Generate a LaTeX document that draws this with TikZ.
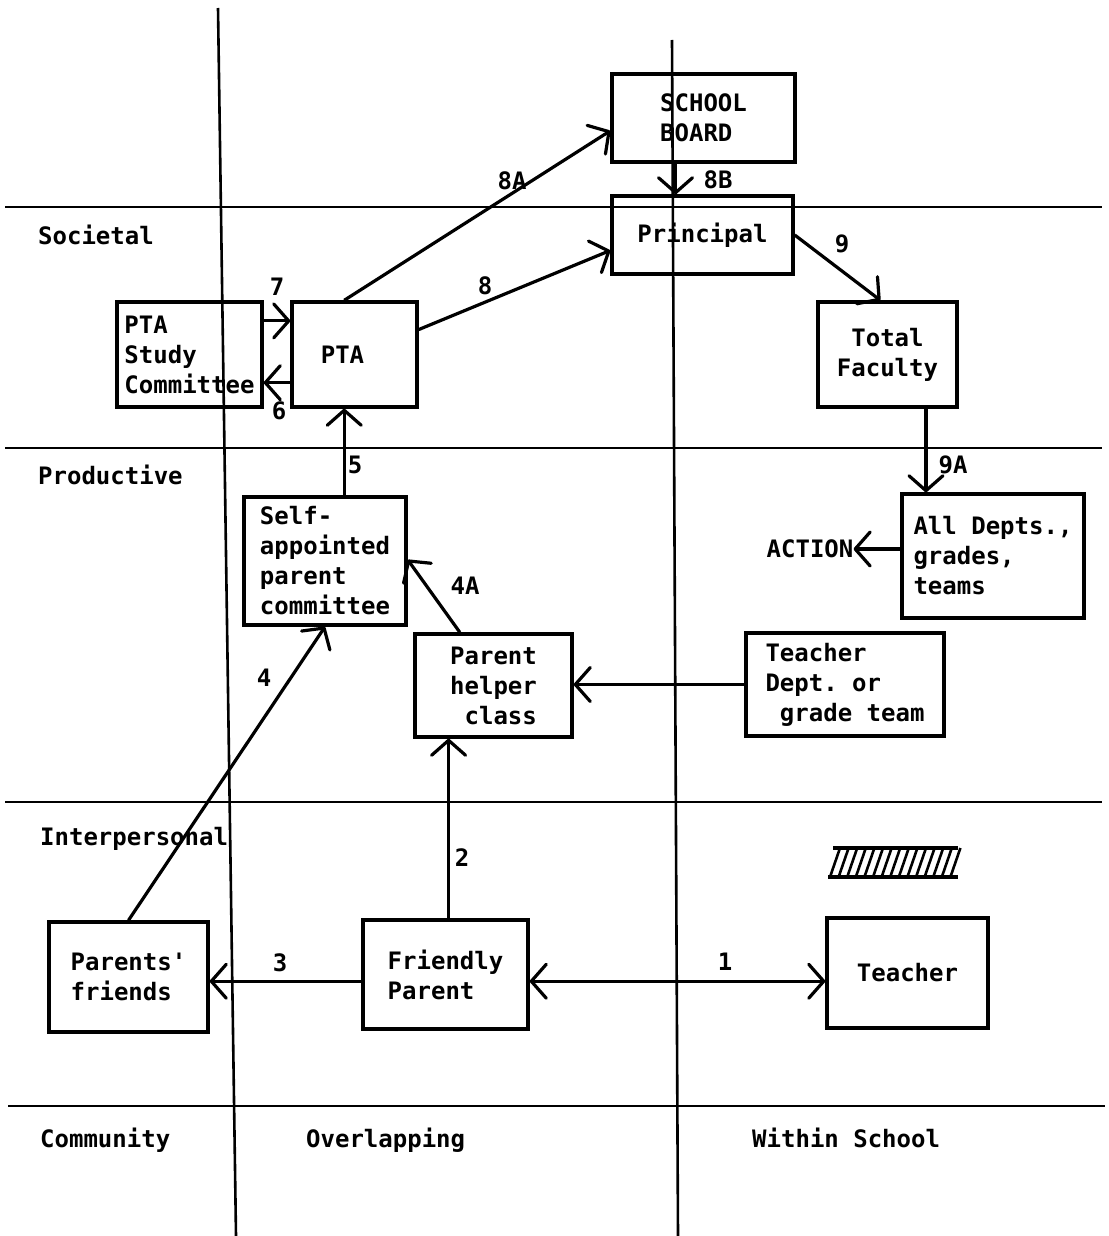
\documentclass[tikz,border=0pt]{standalone}
\usepackage{fontspec}
\setmonofont{DejaVu Sans Mono}
\usetikzlibrary{arrows.meta,calc}
\begin{document}
\begin{tikzpicture}[x=1pt,y=-1pt,
  txt/.style={font=\ttfamily\bfseries\fontsize{24}{30}\selectfont, inner sep=0pt},
  box/.style={txt, draw, line width=3.4pt, align=left},
  divider/.style={line width=2.6pt},
  vtip/.tip={Straight Barb[length=15pt,width=34pt,round]},
  link/.style={line width=3.2pt, -vtip},
  linkboth/.style={line width=3.2pt, vtip-vtip},
  num/.style={txt}
]
\useasboundingbox[fill=white] (0,0) rectangle (1108,1236);

% level and domain dividers
\draw[divider] (5,207) -- (1102,207);
\draw[divider] (5,448) -- (1102,448);
\draw[divider] (5,802) -- (1102,802);
\draw[divider] (8,1106) -- (1105,1106);
\draw[divider] (218,8) -- (236,1236);
\draw[divider] (672,40) -- (678,1236);

% row and column headings
\node[txt, anchor=base west] (hsoc) at (38,244) {Societal};
\node[txt, anchor=base west] (hprod) at (38,484) {Productive};
\node[txt, anchor=base west] (hint) at (40,845) {Interpersonal};
\node[txt, anchor=base west] (hcom) at (40,1147) {Community};
\node[txt, anchor=base west] (hover) at (306,1147) {Overlapping};
\node[txt, anchor=base west] (hwith) at (752,1147) {Within School};

% boxes
\node[box, minimum width=183pt, minimum height=88pt] (sb) at (703.5,118) {SCHOOL\\BOARD};
\node[box, minimum width=181pt, minimum height=78pt] (pr) at (702.5,235) {Principal};
\node[box, minimum width=145pt, minimum height=105pt] (ptas) at (189.5,354.5) {PTA\\Study\\Committee};
\node[box, minimum width=125pt, minimum height=105pt] (pta) at (354.5,354.5) {PTA\hspace{24pt}};
\node[box, align=center, minimum width=139pt, minimum height=105pt] (tf) at (887.5,354.5) {Total\\Faculty};
\node[box, minimum width=162pt, minimum height=128pt] (sap) at (325,561) {Self-\\appointed\\parent\\committee};
\node[box, minimum width=182pt, minimum height=124pt] (ad) at (993,556) {All Depts.,\\grades,\\teams};
\node[box, align=right, minimum width=157pt, minimum height=103pt] (ph) at (493.5,685.5) {Parent\\helper\\class};
\node[box, minimum width=198pt, minimum height=103pt] (td) at (845,684.5) {Teacher\\Dept. or\\\phantom{x}grade team};
\node[box, minimum width=159pt, minimum height=110pt] (pf) at (128.5,977) {Parents'\\friends};
\node[box, minimum width=165pt, minimum height=109pt] (fp) at (445.5,974.5) {Friendly\\Parent};
\node[box, minimum width=161pt, minimum height=110pt] (tc) at (907.5,973) {Teacher};
\node[txt] (act) at (810,549) {ACTION};

% hatched mark above the teacher
\foreach \i in {0,...,14} {
  \draw[line width=2.6pt] (830+8.6*\i,877) -- (840+8.6*\i,848);
}
\draw[line width=3.4pt] (833,848) -- (958,848);
\draw[line width=3.4pt] (828,877) -- (958,877);

% connectors
\coordinate (c8a) at ($(pta.north west)!0.42!(pta.north east)$);
\draw[link] (c8a) -- ($(sb.north west)!0.64!(sb.south west)$);
\coordinate (c8b) at ($(sb.south west)!0.35!(sb.south east)$);
\draw[link] (c8b) -- (c8b |- pr.north);
\draw[link] ($(pta.north east)!0.27!(pta.south east)$) -- ($(pr.north west)!0.69!(pr.south west)$);
\draw[link] (pr.east) -- ($(tf.north west)!0.45!(tf.north east)$);
\coordinate (c7) at ($(ptas.north east)!0.19!(ptas.south east)$);
\draw[link] (c7) -- (c7 -| pta.west);
\coordinate (c6) at ($(pta.north west)!0.76!(pta.south west)$);
\draw[link] (c6) -- (c6 -| ptas.east);
\coordinate (c5) at ($(pta.south west)!0.42!(pta.south east)$);
\draw[link] (c5 |- sap.north) -- (c5);
\coordinate (c9a) at ($(tf.south west)!0.77!(tf.south east)$);
\draw[link] (c9a) -- (c9a |- ad.north);
\coordinate (cact) at (ad.west |- act.east);
\draw[link] (cact) -- (act.east);
\draw[link] ($(ph.north west)!0.29!(ph.north east)$) -- ($(sap.north east)!0.49!(sap.south east)$);
\draw[link] (td.west) -- (td.west -| ph.east);
\draw[link] (pf.north) -- (sap.south);
\coordinate (c2) at ($(ph.south west)!0.22!(ph.south east)$);
\draw[link] (c2 |- fp.north) -- (c2);
\coordinate (c3) at ($(fp.north west)!0.56!(fp.south west)$);
\draw[link] (c3) -- (c3 -| pf.east);
\coordinate (c1) at (c3 -| fp.east);
\draw[linkboth] (c1) -- (c1 -| tc.west);

% connector numbers
\node[num] (n8a) at (512,181) {8A};
\node[num] (n8b) at (718,180) {8B};
\node[num] (n8) at (485,286) {8};
\node[num] (n9) at (842,244) {9};
\node[num] (n7) at (277,287) {7};
\node[num] (n6) at (279,411) {6};
\node[num] (n5) at (355,465) {5};
\node[num] (n9a) at (953,465) {9A};
\node[num] (n4a) at (465,586) {4A};
\node[num] (n4) at (264,678) {4};
\node[num] (n2) at (462,858) {2};
\node[num] (n3) at (280,963) {3};
\node[num] (n1) at (725,962) {1};
\end{tikzpicture}
\end{document}
